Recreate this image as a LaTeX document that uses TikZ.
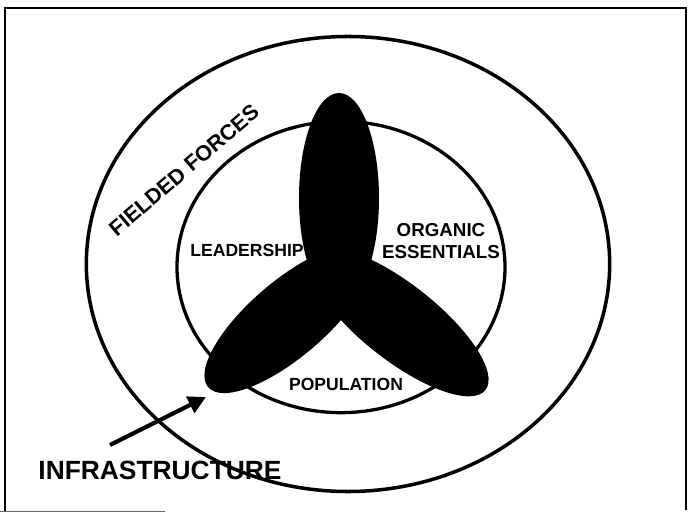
\documentclass[tikz,border=0pt]{standalone}
\usepackage{fontspec}
\setmainfont{Liberation Sans}
\usetikzlibrary{shapes.geometric,arrows.meta}

\tikzset{
  ring/.style={ellipse,draw=black,line width=3pt,inner sep=0pt},
  lobe/.style={ellipse,fill=black,inner sep=0pt},
  lbl/.style={font=\bfseries\fontsize{15}{18}\selectfont,inner sep=0pt},
}

\begin{document}
\begin{tikzpicture}[x=0.03cm,y=-0.03cm]
\useasboundingbox (0,0) rectangle (691,514);

% frame
\draw[line width=1.2pt] (5,512) -- (5,8) -- (686,8) -- (686,510);
\draw[line width=0.8pt,black!60] (0,511) -- (165,511);

\node[ring,minimum width=15.7cm,minimum height=13.65cm] (outer) at (348,264) {};
\node[ring,line width=2.8pt,minimum width=9.84cm,minimum height=8.74cm] (inner) at (341,267) {};

\node[lobe,minimum width=2.4cm,minimum height=6.3cm] (toplobe) at (339,198) {};
\node[lobe,rotate=40.5,minimum width=6.3cm,minimum height=2.28cm] (leftlobe) at (288,319) {};
\node[lobe,rotate=-38.2,minimum width=6.6cm,minimum height=2.28cm] (rightlobe) at (399,322) {};

\node[rotate=40.5,inner sep=0pt,font=\bfseries\fontsize{18.5}{22}\selectfont] (fielded) at (184,170) {FIELDED FORCES};
\node[lbl] (leader) at (247,250) {LEADERSHIP};
\node[lbl,align=center,font=\bfseries\fontsize{16}{18.7}\selectfont] (organic) at (441,241) {ORGANIC\\ESSENTIALS};
\node[lbl] (popul) at (346,384) {POPULATION};

\node[inner sep=0pt,font=\bfseries\fontsize{22.5}{26}\selectfont] (infra) at (160,470) {INFRASTRUCTURE};

\coordinate (infratail) at (110,445);
\coordinate (infratip) at (206,397);
\draw[-{Triangle[length=15pt,width=15pt]},line width=3.6pt] (infratail) -- (infratip);

\end{tikzpicture}
\end{document}
